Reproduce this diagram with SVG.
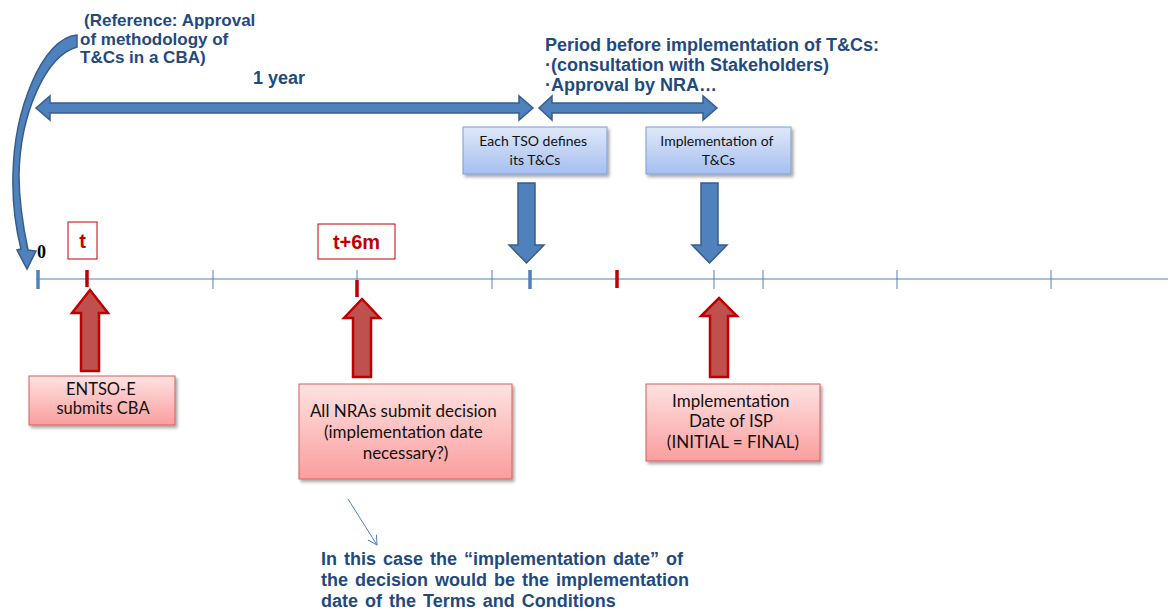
<svg xmlns="http://www.w3.org/2000/svg" width="1168" height="610" viewBox="0 0 1168 610">
  <defs>
    <linearGradient id="gBlue" x1="0" y1="0" x2="0" y2="1">
      <stop offset="0" stop-color="#dfe8f9"/>
      <stop offset="1" stop-color="#a5bff0"/>
    </linearGradient>
    <linearGradient id="gRed" x1="0" y1="0" x2="0" y2="1">
      <stop offset="0" stop-color="#ffe2e2"/>
      <stop offset="1" stop-color="#fb9d9d"/>
    </linearGradient>
    <filter id="shadow" x="-10%" y="-10%" width="130%" height="140%">
      <feDropShadow dx="2" dy="2.5" stdDeviation="1.5" flood-color="#000" flood-opacity="0.35"/>
    </filter>
    <marker id="openHead" markerWidth="12" markerHeight="12" refX="10" refY="6" orient="auto" markerUnits="userSpaceOnUse">
      <path d="M1 1 L10 6 L1 11" fill="none" stroke="#4f81bd" stroke-width="1"/>
    </marker>
    <style>
      .axis { stroke: #4f81bd; stroke-width: 1; fill: none; }
      .tick { stroke: #4f81bd; stroke-width: 1; }
      .tickBlue { stroke: #4f81bd; stroke-width: 3.5; }
      .tickRed { stroke: #c00000; stroke-width: 3.5; }
      .blockBlue { fill: #4f81bd; stroke: #385d8a; stroke-width: 1.5; stroke-linejoin: miter; }
      .blockRed { fill: #c0504d; stroke: #c00000; stroke-width: 2.5; }
      .boxBlue { fill: url(#gBlue); stroke: #7d9ed4; stroke-width: 1; filter: url(#shadow); }
      .boxRed { fill: url(#gRed); stroke: #d0605c; stroke-width: 1; filter: url(#shadow); }
      .labelBox { fill: #fff; stroke: #c00000; stroke-width: 1; }
      .boxText { font-family: Lato, "Open Sans", sans-serif; fill: #111; text-anchor: middle; }
      .note { font-family: "Liberation Sans", Arial, sans-serif; font-weight: bold; fill: #1f4a80; }
      .redLabel { font-family: "Liberation Sans", Arial, sans-serif; font-weight: bold; fill: #c00000; text-anchor: middle; }
    </style>
  </defs>

  <!-- time axis with its tick marks -->
  <g id="timeline">
    <line class="axis" x1="36" y1="279" x2="1168" y2="279"/>
    <line class="tick" x1="213" y1="270" x2="213" y2="289"/>
    <line class="tick" x1="357" y1="270" x2="357" y2="280"/>
    <line class="tick" x1="492" y1="270" x2="492" y2="289"/>
    <line class="tick" x1="714" y1="270" x2="714" y2="289"/>
    <line class="tick" x1="763" y1="270" x2="763" y2="289"/>
    <line class="tick" x1="897" y1="270" x2="897" y2="289"/>
    <line class="tick" x1="1051" y1="270" x2="1051" y2="289"/>
    <line class="tickBlue" x1="38" y1="270" x2="38" y2="289"/>
    <line class="tickBlue" x1="530" y1="270" x2="530" y2="289"/>
    <line class="tickRed" x1="87" y1="270" x2="87" y2="287"/>
    <line class="tickRed" x1="357" y1="280" x2="357" y2="297"/>
    <line class="tickRed" x1="617" y1="270" x2="617" y2="288"/>
    <text x="37" y="258" font-family="Liberation Serif, serif" font-weight="bold" font-size="18" fill="#000">0</text>
  </g>

  <!-- time labels -->
  <g id="label-t">
    <rect class="labelBox" x="68" y="222" width="29" height="37"/>
    <text class="redLabel" x="82.5" y="248" font-size="20">t</text>
  </g>
  <g id="label-t6m">
    <rect class="labelBox" x="318" y="224" width="77" height="35"/>
    <text class="redLabel" x="356.5" y="249" font-size="20">t+6m</text>
  </g>

  <!-- reference note -->
  <g id="reference-note">
    <text class="note" font-size="17" fill="#2c5287">
      <tspan x="84" y="26">(Reference: Approval</tspan>
      <tspan x="80" y="45">of methodology of</tspan>
      <tspan x="80" y="63">T&amp;Cs in a CBA)</tspan>
    </text>
  </g>

  <!-- period annotations -->
  <g id="one-year">
    <text class="note" x="253" y="84" font-size="18">1 year</text>
  </g>
  <g id="period-note">
    <text class="note" font-size="18">
      <tspan x="545" y="51">Period before implementation of T&amp;Cs:</tspan>
      <tspan x="545" y="71">·(consultation with Stakeholders)</tspan>
      <tspan x="545" y="91">·Approval by NRA…</tspan>
    </text>
  </g>

  <!-- blue process boxes -->
  <g id="tso-defines">
    <rect class="boxBlue" x="463" y="127" width="144" height="47"/>
    <text class="boxText" font-size="14">
      <tspan x="535" y="146">Each TSO defines</tspan>
      <tspan x="535" y="165">its T&amp;Cs</tspan>
    </text>
  </g>
  <g id="impl-tcs">
    <rect class="boxBlue" x="646" y="127" width="145" height="47"/>
    <text class="boxText" font-size="14">
      <tspan x="718.5" y="146">Implementation of</tspan>
      <tspan x="718.5" y="165">T&amp;Cs</tspan>
    </text>
  </g>

  <!-- red milestone boxes -->
  <g id="entsoe-cba">
    <rect class="boxRed" x="29" y="376" width="146" height="49"/>
    <text class="boxText" font-size="16.5">
      <tspan x="103" y="395">ENTSO-E</tspan>
      <tspan x="103" y="414">submits CBA</tspan>
    </text>
  </g>
  <g id="nra-decision">
    <rect class="boxRed" x="299" y="384" width="213" height="95"/>
    <text class="boxText" font-size="17">
      <tspan x="405.5" y="417">All NRAs submit decision</tspan>
      <tspan x="405.5" y="438">(implementation date</tspan>
      <tspan x="405.5" y="459">necessary?)</tspan>
    </text>
  </g>
  <g id="isp-date">
    <rect class="boxRed" x="646" y="384" width="174" height="77"/>
    <text class="boxText" font-size="17">
      <tspan x="733" y="407">Implementation</tspan>
      <tspan x="733" y="427">Date of ISP</tspan>
      <tspan x="733" y="448">(INITIAL = FINAL)</tspan>
    </text>
  </g>

  <!-- bottom remark -->
  <g id="remark">
    <text class="note" font-size="18" word-spacing="2">
      <tspan x="321" y="565">In this case the “implementation date” of</tspan>
      <tspan x="321" y="586">the decision would be the implementation</tspan>
      <tspan x="321" y="607">date of the Terms and Conditions</tspan>
    </text>
  </g>

  <!-- connectors -->
  <g id="connectors">
    <!-- curved arrow from the reference note to 0 -->
    <path class="blockBlue" d="M77 35 C42 38 14 110 13 175 C12 210 17 233 21 249 L17 250 L27 269 L36 251 L28 250 C24 231 19 205 19 175 C20 115 45 56 77 47 Z"/>
    <!-- durations -->
    <path class="blockBlue" d="M36 108 L50 96 L50 103 L519 103 L519 96 L533 108 L519 120 L519 113 L50 113 L50 120 Z"/>
    <path class="blockBlue" d="M539 108 L552 96 L552 103 L703 103 L703 96 L717 108 L703 120 L703 113 L552 113 L552 120 Z"/>
    <!-- blue down arrows -->
    <path class="blockBlue" d="M518 183 H535 V245 H544 L526.5 263 L509 245 H518 Z"/>
    <path class="blockBlue" d="M701 183 H718 V245 H727 L709.5 263 L692 245 H701 Z"/>
    <!-- red up arrows -->
    <path class="blockRed" d="M81 371 V313 H72 L90 290 L108 313 H99 V371 Z"/>
    <path class="blockRed" d="M353 377 V318 H344 L362 299 L380 318 H371 V377 Z"/>
    <path class="blockRed" d="M710 377 V316 H701 L719 298 L737 316 H728 V377 Z"/>
    <!-- thin pointer to remark -->
    <line x1="348" y1="499" x2="377" y2="545" stroke="#4f81bd" stroke-width="1" marker-end="url(#openHead)"/>
  </g>
</svg>
